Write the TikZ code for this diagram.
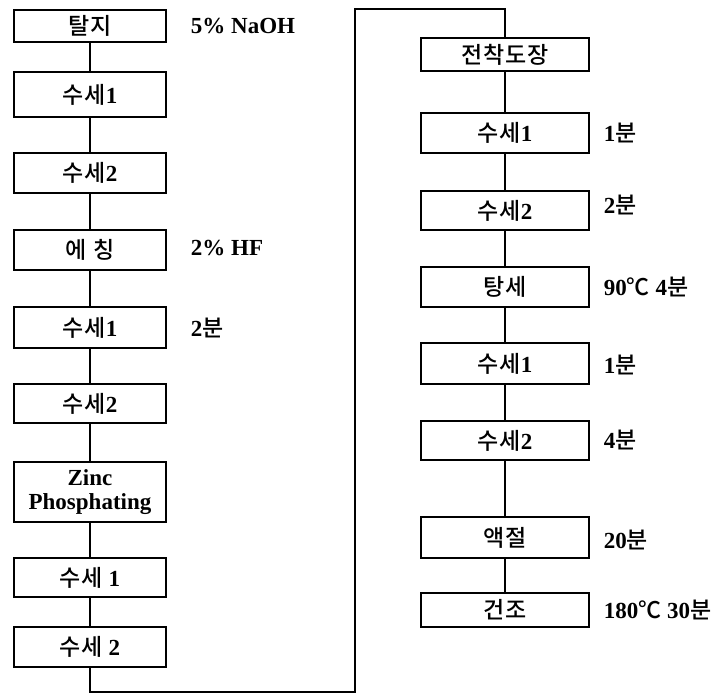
\documentclass[tikz,border=0pt]{standalone}
\usepackage{fontspec}
\setmainfont{Liberation Serif}
\newfontfamily\kr{Noto Sans CJK KR}[BoldFont={Noto Sans CJK KR Medium}, LetterSpace=4]
\newcommand{\ko}[1]{{\kr #1}}

\begin{document}
\begin{tikzpicture}[x=1pt, y=-1pt, line width=1.8pt,
  font=\fontsize{23pt}{27pt}\selectfont\bfseries,
  procL/.style={draw, line width=2.4pt, minimum width=152pt, inner sep=0pt, align=center},
  procR/.style={draw, line width=2.4pt, minimum width=168pt, inner sep=0pt, align=center},
  note/.style={anchor=west, inner sep=0pt}]
  \useasboundingbox (0,0) rectangle (716,695);
  % 왼쪽 열: 전처리
  \node[procL, minimum height=32pt] (L1) at (90,26)    {\ko{탈지}};
  \node[procL, minimum height=45pt] (L2) at (90,94.5)  {\ko{수세}1};
  \node[procL, minimum height=40pt] (L3) at (90,173)   {\ko{수세}2};
  \node[procL, minimum height=40pt] (L4) at (90,250)   {\ko{에 칭}};
  \node[procL, minimum height=41pt] (L5) at (90,327.5) {\ko{수세}1};
  \node[procL, minimum height=39pt] (L6) at (90,403.5) {\ko{수세}2};
  \node[procL, minimum height=60pt] (L7) at (90,492)   {Zinc\\[-3pt]Phosphating};
  \node[procL, minimum height=39pt] (L8) at (90,577.5) {\ko{수세} 1};
  \node[procL, minimum height=40pt] (L9) at (90,647)   {\ko{수세} 2};
  % 오른쪽 열: 도장
  \node[procR, minimum height=33pt] (R1) at (505,54.5)  {\ko{전착도장}};
  \node[procR, minimum height=40pt] (R2) at (505,133)   {\ko{수세}1};
  \node[procR, minimum height=39pt] (R3) at (505,210.5) {\ko{수세}2};
  \node[procR, minimum height=40pt] (R4) at (505,287)   {\ko{탕세}};
  \node[procR, minimum height=41pt] (R5) at (505,363.5) {\ko{수세}1};
  \node[procR, minimum height=39pt] (R6) at (505,440.5) {\ko{수세}2};
  \node[procR, minimum height=41pt] (R7) at (505,537.5) {\ko{액절}};
  \node[procR, minimum height=34pt] (R8) at (505,610)   {\ko{건조}};
  % 조건
  \node[note] (nL1) at (190,26)  {5\% NaOH};
  \node[note] (nL4) at (190,248) {2\% HF};
  \node[note] (nL5) at (190,328) {2\ko{분}};
  \node[note] (nR2) at (603,133) {1\ko{분}};
  \node[note] (nR3) at (603,205) {2\ko{분}};
  \node[note] (nR4) at (603,287) {90\ko{℃} 4\ko{분}};
  \node[note] (nR5) at (603,365) {1\ko{분}};
  \node[note] (nR6) at (603,440) {4\ko{분}};
  \node[note] (nR7) at (603,540) {20\ko{분}};
  \node[note] (nR8) at (603,610) {180\ko{℃} 30\ko{분}};
  % 연결선
  \foreach \a/\b in {L1/L2, L2/L3, L3/L4, L4/L5, L5/L6, L6/L7, L7/L8, L8/L9,
                     R1/R2, R2/R3, R3/R4, R4/R5, R5/R6, R6/R7, R7/R8}
    \draw (\a) -- (\b);
  \coordinate (c1) at (90,692);
  \coordinate (c2) at (355,692);
  \coordinate (c3) at (355,9);
  \coordinate (c4) at (505,9);
  \draw (L9) -- (c1) -- (c2) -- (c3) -- (c4) -- (R1);
\end{tikzpicture}
\end{document}
